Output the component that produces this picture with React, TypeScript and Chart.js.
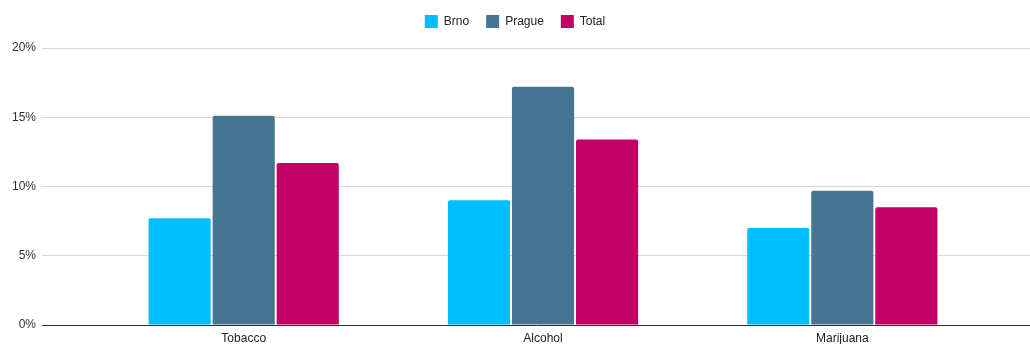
import React, { useEffect, useRef } from "react";
import { Chart, registerables } from "chart.js";

Chart.register(...registerables);

const categories = ["Tobacco", "Alcohol", "Marijuana"];
const brno = [7.7, 9.0, 7.0];
const prague = [15.1, 17.2, 9.7];
const total = [11.7, 13.4, 8.5];
const yTicks = [0, 5, 10, 15, 20];

const legendSpacer = {
  id: "legendSpacer",
  beforeLayout(chart: any) {
    const lg = chart.legend;
    if (lg && !lg._spaced) {
      const orig = lg.fit;
      lg.fit = function (this: any) {
        orig.call(this);
        this.height += 10;
      };
      lg._spaced = true;
    }
  },
};

export default function App() {
  const ref = useRef<HTMLCanvasElement>(null);
  useEffect(() => {
    document.body.style.margin = "0";
    const ctx = ref.current!;
    const mk = (label: string, data: number[], color: string) => ({
      label,
      data,
      backgroundColor: color,
      borderColor: color,
      borderWidth: 0,
      borderRadius: 2,
      borderSkipped: "bottom" as const,
      categoryPercentage: 0.642,
      barPercentage: 0.97,
    });
    const chart = new Chart(ctx, {
      type: "bar",
      plugins: [legendSpacer],
      data: {
        labels: categories,
        datasets: [
          mk("Brno", brno, "#00BFFF"),
          mk("Prague", prague, "#457591"),
          mk("Total", total, "#C20068"),
        ],
      },
      options: {
        animation: false,
        responsive: false,
        maintainAspectRatio: false,
        layout: { padding: { top: -2, right: 0, left: 0, bottom: 0 } },
        font: { family: "'Liberation Sans', Arial, sans-serif", size: 12 },
        plugins: {
          legend: {
            position: "top",
            labels: {
              boxWidth: 13,
              boxHeight: 13,
              padding: 17,
              color: "#222",
              font: { family: "'Liberation Sans', Arial, sans-serif", size: 12 },
            },
          },
          tooltip: { enabled: false },
        },
        scales: {
          x: {
            grid: { display: false, drawTicks: false },
            border: { display: true, color: "#333", width: 1 },
            ticks: {
              color: "#222",
              padding: 6,
              font: { family: "'Liberation Sans', Arial, sans-serif", size: 12 },
            },
            afterBuildTicks: (scale: any) => {
              scale._startValue = -0.5 - 52 / 299;
              scale._valueRange = 3 + 90 / 299;
            },
            afterFit: (scale: any) => {
              scale.height = 19;
            },
          },
          y: {
            min: 0,
            max: 20,
            afterBuildTicks: (scale: any) => {
              scale.ticks = yTicks.map((v) => ({ value: v }));
            },
            afterFit: (scale: any) => {
              scale.width = 42;
            },
            grid: {
              color: "#d9d9d9",
              drawTicks: false,
            },
            border: { display: false },
            ticks: {
              padding: 6,
              color: "#333",
              font: { family: "'Liberation Sans', Arial, sans-serif", size: 12 },
              callback: (v: any) => v + "%",
            },
          },
        },
      },
    });
    return () => chart.destroy();
  }, []);
  return <canvas ref={ref} width={1030} height={344} style={{ display: "block" }} />;
}
